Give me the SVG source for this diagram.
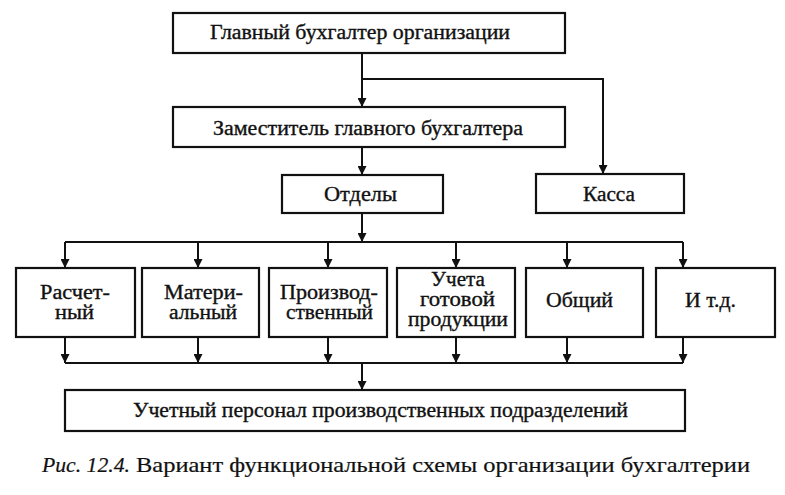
<svg xmlns="http://www.w3.org/2000/svg" width="785" height="495" viewBox="0 0 785 495" font-family="'Liberation Serif', 'Times New Roman', Times, 'DejaVu Serif', serif">
<defs>
<style>
.box{fill:#fff;stroke:#111;stroke-width:2.2}
.t{font-family:'Liberation Serif','Times New Roman',Times,'DejaVu Serif',serif;font-size:20px;fill:#111;stroke:#111;stroke-width:0.35}
.c{fill:none;stroke:#111;stroke-width:2}
.cap{font-family:'Liberation Serif','Times New Roman',Times,'DejaVu Serif',serif;font-size:21px;fill:#111;stroke:#111;stroke-width:0.2}
</style>
<marker id="ah" viewBox="0 0 10 10" refX="10" refY="5" markerWidth="10" markerHeight="9" markerUnits="userSpaceOnUse" orient="auto">
<path d="M0,0 L10,5 L0,10 Z" fill="#111"/>
</marker>
</defs>
<rect width="785" height="495" fill="#fff"/>
<g id="connectors">
<path class="c" d="M362,53 V107" marker-end="url(#ah)"/>
<path class="c" d="M362,79 H603 V174" marker-end="url(#ah)"/>
<path class="c" d="M362,147 V175" marker-end="url(#ah)"/>
<path class="c" d="M362,213 V242" marker-end="url(#ah)"/>
<path class="c" d="M65,242 H683"/>
<path class="c" d="M65,242 V268" marker-end="url(#ah)"/>
<path class="c" d="M198,242 V268" marker-end="url(#ah)"/>
<path class="c" d="M328,242 V268" marker-end="url(#ah)"/>
<path class="c" d="M456,242 V268" marker-end="url(#ah)"/>
<path class="c" d="M567,242 V268" marker-end="url(#ah)"/>
<path class="c" d="M683,242 V268" marker-end="url(#ah)"/>
<path class="c" d="M65,337 V363" marker-end="url(#ah)"/>
<path class="c" d="M198,337 V363" marker-end="url(#ah)"/>
<path class="c" d="M328,337 V363" marker-end="url(#ah)"/>
<path class="c" d="M456,337 V363" marker-end="url(#ah)"/>
<path class="c" d="M567,337 V363" marker-end="url(#ah)"/>
<path class="c" d="M683,337 V363" marker-end="url(#ah)"/>
<path class="c" d="M65,363 H683"/>
<path class="c" d="M362,363 V390" marker-end="url(#ah)"/>
</g>
<g id="chief">
<rect class="box" x="173" y="13" width="392" height="40"/>
<text class="t" x="210" y="39" textLength="300" lengthAdjust="spacingAndGlyphs">Главный бухгалтер организации</text>
</g>
<g id="deputy">
<rect class="box" x="173" y="107" width="392" height="40"/>
<text class="t" x="213" y="135" textLength="310" lengthAdjust="spacingAndGlyphs">Заместитель главного бухгалтера</text>
</g>
<g id="otdely">
<rect class="box" x="282" y="175" width="161" height="38"/>
<text class="t" x="324" y="201" textLength="73" lengthAdjust="spacingAndGlyphs">Отделы</text>
</g>
<g id="kassa">
<rect class="box" x="536" y="174" width="148" height="39"/>
<text class="t" x="583" y="201" textLength="52" lengthAdjust="spacingAndGlyphs">Касса</text>
</g>
<g id="raschetny">
<rect class="box" x="16" y="268" width="119" height="69"/>
<text class="t" x="40" y="299" textLength="70" lengthAdjust="spacingAndGlyphs">Расчет-</text>
<text class="t" x="55" y="319" textLength="39" lengthAdjust="spacingAndGlyphs">ный</text>
</g>
<g id="materialny">
<rect class="box" x="142" y="268" width="117" height="69"/>
<text class="t" x="164" y="299" textLength="79" lengthAdjust="spacingAndGlyphs">Матери-</text>
<text class="t" x="169" y="319" textLength="68" lengthAdjust="spacingAndGlyphs">альный</text>
</g>
<g id="proizvodstvenny">
<rect class="box" x="269" y="268" width="118" height="69"/>
<text class="t" x="280" y="299" textLength="98" lengthAdjust="spacingAndGlyphs">Производ-</text>
<text class="t" x="286" y="319" textLength="87" lengthAdjust="spacingAndGlyphs">ственный</text>
</g>
<g id="gotovaya">
<rect class="box" x="397" y="268" width="118" height="69"/>
<text class="t" x="431" y="286" textLength="54" lengthAdjust="spacingAndGlyphs">Учета</text>
<text class="t" x="420" y="306" textLength="75" lengthAdjust="spacingAndGlyphs">готовой</text>
<text class="t" x="408" y="326" textLength="100" lengthAdjust="spacingAndGlyphs">продукции</text>
</g>
<g id="obshchiy">
<rect class="box" x="526" y="268" width="117" height="69"/>
<text class="t" x="546" y="307" textLength="67" lengthAdjust="spacingAndGlyphs">Общий</text>
</g>
<g id="itd">
<rect class="box" x="656" y="268" width="119" height="69"/>
<text class="t" x="685" y="307" textLength="51" lengthAdjust="spacingAndGlyphs">И т.д.</text>
</g>
<g id="personal">
<rect class="box" x="65" y="390" width="620" height="41"/>
<text class="t" x="133" y="417" textLength="495" lengthAdjust="spacingAndGlyphs">Учетный персонал производственных подразделений</text>
</g>
<g id="caption">
<text class="cap" x="42" y="472" font-style="italic" textLength="88" lengthAdjust="spacingAndGlyphs">Рис. 12.4.</text>
<text class="cap" x="136" y="472" textLength="614" lengthAdjust="spacingAndGlyphs">Вариант функциональной схемы организации бухгалтерии</text>
</g>
</svg>
